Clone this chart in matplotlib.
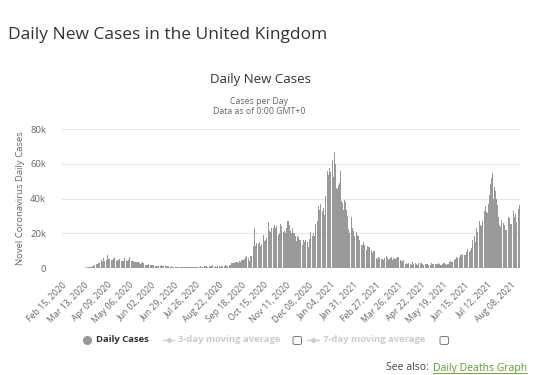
import numpy as np
import matplotlib
matplotlib.use("Agg")
import matplotlib.pyplot as plt
from matplotlib.lines import Line2D
from matplotlib.patches import FancyBboxPatch

plt.rcParams['font.family'] = ['Open Sans', 'DejaVu Sans']

# daily new cases, Feb 15 2020 .. Aug 19 2021
feb_2020 = [0, 0, 0, 0, 0, 0, 0, 0, 0, 0, 0, 0, 4, 3, 0]
mar_2020 = [12, 4, 11, 34, 30, 48, 43, 67, 48, 52, 83, 134, 208, 342, 251, 152,
            407, 676, 643, 714, 1035, 665, 967, 1427, 1452, 2129, 2885, 2546, 2433, 2619, 3009]
apr_2020 = [4324, 4244, 4450, 3735, 5903, 3802, 3634, 5491, 4344, 7400, 5233, 5288, 4342, 5252, 4603,
            4617, 5599, 5525, 5850, 4676, 4301, 4451, 4583, 5386, 4913, 4463, 4309, 3996, 4076, 6032]
may_2020 = [6201, 4806, 4339, 3985, 4406, 6111, 5614, 4649, 3896, 3923, 3877, 3403, 3242, 3446, 3560, 3450,
            3534, 2684, 2412, 2472, 2615, 3287, 2959, 2409, 1625, 2004, 2013, 1887, 2095, 2445, 1936]
jun_2020 = [1570, 1613, 1871, 1805, 1650, 1557, 1326, 1205, 1387, 1003, 1266, 1541, 1425, 1514, 1056,
            1279, 1115, 1218, 1346, 1221, 1295, 958, 874, 1118, 652, 1006, 814, 689, 815, 689]
jul_2020 = [829, 576, 544, 624, 516, 352, 581, 630, 512, 642, 820, 650, 530, 598, 538, 642,
            687, 827, 580, 535, 445, 560, 769, 766, 767, 747, 685, 581, 763, 846, 880]
aug_2020 = [744, 743, 938, 670, 892, 950, 871, 758, 1062, 1148, 1148, 1009, 950, 1441, 1012, 1040,
            713, 1089, 812, 1182, 1033, 1288, 1041, 853, 1184, 1048, 1522, 1276, 1108, 1715, 1406]
sep_2020 = [1295, 1508, 1735, 1940, 1813, 2988, 2948, 2460, 2659, 2919, 3539, 3497, 3330, 2621, 3105,
            3991, 3395, 4322, 4422, 3899, 4368, 4926, 6178, 6634, 6874, 6042, 5693, 4044, 7143, 7108]
oct_2020 = [6914, 6968, 12872, 22961, 12594, 14542, 14162, 17540, 13864, 15166, 12872, 13972, 17234, 19724,
            18980, 15650, 16171, 16982, 18804, 21331, 26688, 21242, 20530, 23012, 19790, 20890, 22885,
            24701, 23065, 24405, 21915]
nov_2020 = [23254, 18950, 20018, 25177, 24141, 23287, 24957, 20572, 21350, 20412, 22950, 33470, 27301,
            26860, 24962, 21363, 20051, 19609, 22915, 20252, 19875, 18662, 15450, 11299, 18213, 17555,
            16022, 15871, 12155, 12330]
dec_2020 = [13430, 16170, 14879, 16298, 15539, 17272, 14718, 12282, 16578, 20964, 21672, 21502, 18447,
            20263, 18450, 25161, 35383, 28507, 27052, 35928, 33364, 36804, 39237, 39036, 32725, 34693,
            30501, 41385, 53135, 50023, 55892]
jan_2021 = [53285, 57725, 54990, 58784, 60916, 62322, 52618, 66800, 59937, 54940, 46169, 45533, 47525,
            48682, 55761, 41346, 38598, 37535, 33355, 38905, 37892, 40261, 33552, 30004, 22195, 20089,
            25308, 28680, 29079, 23275, 21088]
feb_2021 = [18607, 16840, 19202, 20634, 19114, 18262, 15845, 14104, 12364, 13494, 13013, 15144, 13308,
            10972, 9765, 10625, 12718, 12057, 12027, 10406, 9834, 10641, 8489, 9938, 9985, 8523, 7434, 6035]
mar_2021 = [5455, 6391, 5766, 6573, 6040, 5177, 5177, 4712, 5766, 5926, 6609, 6753, 5534, 4618, 5089, 5294,
            5758, 6303, 4802, 5587, 5312, 5342, 5379, 5605, 6397, 6187, 3862, 3862, 4654, 4052, 4040]
apr_2021 = [4479, 3402, 3423, 2297, 2762, 2379, 2763, 3150, 3030, 2589, 1730, 3568, 2472, 2491, 2672,
            3145, 2206, 1882, 2963, 2524, 2396, 2729, 2678, 2061, 1712, 2064, 1946, 2166, 2381, 2490]
may_2021 = [1907, 1671, 1649, 1946, 2613, 2490, 2047, 1770, 1770, 2357, 2474, 2284, 2657, 2193, 2027, 1926,
            1979, 2412, 2696, 2874, 2829, 2235, 1979, 2439, 2493, 3180, 3542, 4182, 3398, 3240, 3165]
jun_2021 = [3383, 4330, 5274, 6238, 5765, 5341, 5683, 6048, 7540, 7393, 8125, 7738, 7490, 7742, 7673,
            9055, 11007, 10476, 10321, 9284, 10633, 11625, 16135, 16703, 15810, 18270, 14876, 22868,
            20479, 26068]
jul_2021 = [27989, 27125, 24885, 24248, 27334, 28773, 32548, 32551, 35707, 32367, 31772, 34471, 36660,
            42302, 48553, 51870, 54674, 48161, 39950, 46558, 44104, 39906, 36389, 31795, 29173, 24950,
            23511, 27734, 31117, 29622, 26144]
aug_2021 = [24470, 21952, 21691, 29312, 30215, 29622, 28612, 25161, 25039, 23510, 29612, 33074, 29520,
            30838, 26750, 26852, 26628, 33904, 36000]

tick_labels = ["Feb 15, 2020", "Mar 13, 2020", "Apr 09, 2020", "May 06, 2020", "Jun 02, 2020",
               "Jun 29, 2020", "Jul 26, 2020", "Aug 22, 2020", "Sep 18, 2020", "Oct 15, 2020",
               "Nov 11, 2020", "Dec 08, 2020", "Jan 04, 2021", "Jan 31, 2021", "Feb 27, 2021",
               "Mar 26, 2021", "Apr 22, 2021", "May 19, 2021", "Jun 15, 2021", "Jul 12, 2021",
               "Aug 08, 2021"]
y_ticks = [0, 20000, 40000, 60000, 80000]
y_tick_labels = ["0", "20k", "40k", "60k", "80k"]

cases = np.array(feb_2020 + mar_2020 + apr_2020 + may_2020 + jun_2020 + jul_2020 + aug_2020
                 + sep_2020 + oct_2020 + nov_2020 + dec_2020 + jan_2021 + feb_2021 + mar_2021
                 + apr_2021 + may_2021 + jun_2021 + jul_2021 + aug_2021)
days = np.arange(len(cases))

W, H = 539, 375
fig = plt.figure(figsize=(W / 100, H / 100), dpi=100)
ax = fig.add_axes([61.5 / W, 1 - 268 / H, (520 - 61.5) / W, (268 - 129) / H])

ax.bar(days, cases, width=0.85, color="#999999", linewidth=0, zorder=2)

ax.set_xlim(-0.5, len(cases) - 0.5)
ax.set_ylim(0, 80000)
ax.set_yticks(y_ticks)
ax.set_yticklabels(y_tick_labels)
ax.set_xticks(np.arange(len(tick_labels)) * 27)
ax.set_xticklabels(tick_labels, rotation=45, ha="right", rotation_mode="anchor")
ax.tick_params(axis="x", length=0, pad=9, labelsize=6.3, labelcolor="#666666")
ax.tick_params(axis="y", length=0, pad=11, labelsize=6.8, labelcolor="#666666")
ax.grid(axis="y", color="#e6e6e6", linewidth=0.8, zorder=0)
for s in ax.spines.values():
    s.set_visible(False)
ax.set_ylabel("Novel Coronavirus Daily Cases", fontsize=6.8, color="#666666", labelpad=4)

# titles
fig.text(8 / W, 1 - 35 / H, "Daily New Cases in the United Kingdom", fontsize=12.5,
         color="#333333", va="center", ha="left")
fig.text(260 / W, 1 - 79 / H, "Daily New Cases", fontsize=9.5, color="#333333",
         ha="center", va="center")
fig.text(259 / W, 1 - 101 / H, "Cases per Day", fontsize=6.3, color="#666666",
         ha="center", va="center")
fig.text(259 / W, 1 - 112 / H, "Data as of 0:00 GMT+0", fontsize=6.3, color="#666666",
         ha="center", va="center")

# legend
ly = 1 - 340 / H
fig.add_artist(Line2D([87 / W], [ly], marker="o", markersize=5.5, color="#999999",
                      linestyle="none", transform=fig.transFigure))
fig.text(96 / W, ly, "Daily Cases", fontsize=6.8, fontweight="bold", color="#333333", va="center")
for x0, x1, tx, label, bx in [(163, 174, 178, "3-day moving average", 293),
                              (307, 319, 323, "7-day moving average", 440)]:
    fig.add_artist(Line2D([x0 / W, x1 / W], [ly, ly], color="#cccccc", linewidth=1,
                          transform=fig.transFigure))
    fig.add_artist(Line2D([(x0 + x1) / 2 / W], [ly], marker="o", markersize=2.5,
                          color="#cccccc", transform=fig.transFigure))
    fig.text(tx / W, ly, label, fontsize=6.8, fontweight="bold", color="#cccccc", va="center")
    fig.add_artist(FancyBboxPatch((bx / W, 1 - 344.5 / H), 8.5 / W, 8 / H,
                                  boxstyle="round,pad=0,rounding_size=0.004", fill=False,
                                  edgecolor="#777777", linewidth=0.7, transform=fig.transFigure))

# see also
link = fig.text(527 / W, 1 - 368 / H, "Daily Deaths Graph", fontsize=7.5, color="#5a9e2f",
                ha="right", va="center")
fig.canvas.draw()
bb = link.get_window_extent().transformed(fig.transFigure.inverted())
fig.add_artist(Line2D([bb.x0, bb.x1], [bb.y0 + 0.002, bb.y0 + 0.002], color="#5a9e2f",
                      linewidth=0.6, transform=fig.transFigure))
fig.text(bb.x0 - 4 / W, 1 - 368 / H, "See also:", fontsize=7.5, color="#444444",
         ha="right", va="center")

fig.savefig("out.png", dpi=100, facecolor="white")
